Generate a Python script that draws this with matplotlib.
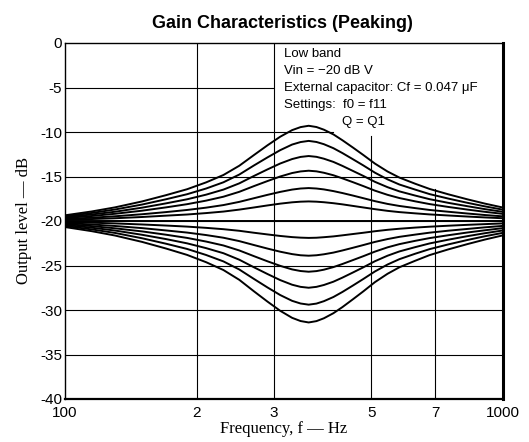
import matplotlib
matplotlib.use("Agg")
import matplotlib.pyplot as plt

# Frequencies (Hz) at which curve values were read
freq = [100, 115, 130, 150, 170, 190, 210, 230, 250, 270, 290, 310, 330, 345, 360,
        375, 390, 410, 430, 455, 480, 510, 545, 580, 630, 680, 750, 830, 910, 1000]

# Output level (dB) curves, largest boost to largest cut
c1 = [-19.36, -18.93, -18.47, -17.80, -17.10, -16.43, -15.66, -14.83, -13.79, -12.59, -11.49, -10.53, -9.79, -9.45, -9.30,
      -9.44, -9.74, -10.27, -10.93, -11.77, -12.59, -13.55, -14.44, -15.12, -15.81, -16.40, -17.00, -17.57, -18.05, -18.49]
c2 = [-19.46, -19.10, -18.71, -18.15, -17.56, -16.99, -16.35, -15.65, -14.78, -13.76, -12.85, -12.04, -11.41, -11.13, -11.00,
      -11.12, -11.37, -11.82, -12.37, -13.08, -13.76, -14.57, -15.32, -15.90, -16.47, -16.98, -17.48, -17.96, -18.36, -18.73]
c3 = [-19.56, -19.27, -18.96, -18.50, -18.02, -17.56, -17.04, -16.47, -15.77, -14.94, -14.20, -13.54, -13.04, -12.80, -12.70,
      -12.79, -13.00, -13.36, -13.81, -14.39, -14.94, -15.60, -16.20, -16.67, -17.14, -17.55, -17.96, -18.34, -18.67, -18.97]
c4 = [-19.66, -19.44, -19.19, -18.84, -18.47, -18.11, -17.71, -17.27, -16.72, -16.08, -15.51, -15.00, -14.61, -14.43, -14.35,
      -14.42, -14.58, -14.86, -15.21, -15.65, -16.08, -16.59, -17.06, -17.42, -17.79, -18.10, -18.42, -18.72, -18.97, -19.20]
c5 = [-19.78, -19.63, -19.47, -19.24, -19.00, -18.76, -18.50, -18.21, -17.85, -17.44, -17.06, -16.73, -16.47, -16.35, -16.30,
      -16.35, -16.45, -16.64, -16.86, -17.15, -17.44, -17.77, -18.08, -18.31, -18.55, -18.76, -18.96, -19.16, -19.33, -19.48]
c6 = [-19.87, -19.78, -19.69, -19.55, -19.40, -19.27, -19.11, -18.94, -18.72, -18.48, -18.25, -18.05, -17.90, -17.83, -17.80,
      -17.83, -17.89, -18.00, -18.13, -18.31, -18.48, -18.67, -18.86, -19.00, -19.14, -19.26, -19.38, -19.50, -19.60, -19.69]
c7 = [-20.0, -20.0, -20.0, -20.0, -20.0, -20.0, -20.0, -20.0, -20.0, -20.0, -20.0, -20.0, -20.0, -20.0, -20.0,
      -20.0, -20.0, -20.0, -20.0, -20.0, -20.0, -20.0, -20.0, -20.0, -20.0, -20.0, -20.0, -20.0, -20.0, -20.0]
c8 = [-20.11, -20.19, -20.27, -20.39, -20.51, -20.63, -20.77, -20.92, -21.10, -21.32, -21.51, -21.68, -21.81, -21.87, -21.90,
      -21.88, -21.82, -21.73, -21.61, -21.46, -21.32, -21.15, -20.99, -20.87, -20.74, -20.64, -20.53, -20.43, -20.35, -20.27]
c9 = [-20.23, -20.39, -20.56, -20.80, -21.06, -21.30, -21.58, -21.88, -22.26, -22.70, -23.10, -23.45, -23.72, -23.85, -23.90,
      -23.85, -23.74, -23.55, -23.31, -23.00, -22.70, -22.35, -22.03, -21.78, -21.53, -21.31, -21.09, -20.89, -20.71, -20.55]
c10 = [-20.34, -20.57, -20.82, -21.17, -21.54, -21.90, -22.31, -22.75, -23.31, -23.95, -24.53, -25.04, -25.44, -25.62, -25.70,
       -25.63, -25.47, -25.18, -24.83, -24.38, -23.95, -23.44, -22.96, -22.60, -22.23, -21.92, -21.60, -21.29, -21.04, -20.80]
c11 = [-20.45, -20.75, -21.07, -21.55, -22.03, -22.51, -23.05, -23.62, -24.35, -25.20, -25.96, -26.64, -27.16, -27.40, -27.50,
       -27.40, -27.19, -26.82, -26.36, -25.77, -25.20, -24.52, -23.90, -23.42, -22.94, -22.52, -22.10, -21.70, -21.37, -21.06]
c12 = [-20.56, -20.94, -21.34, -21.94, -22.55, -23.14, -23.82, -24.54, -25.45, -26.51, -27.47, -28.32, -28.97, -29.27, -29.40,
       -29.28, -29.01, -28.54, -27.97, -27.23, -26.51, -25.67, -24.89, -24.29, -23.68, -23.16, -22.63, -22.13, -21.71, -21.33]
c13 = [-20.68, -21.14, -21.63, -22.35, -23.09, -23.81, -24.63, -25.51, -26.61, -27.90, -29.06, -30.09, -30.88, -31.24, -31.40,
       -31.25, -30.93, -30.36, -29.67, -28.77, -27.90, -26.87, -25.93, -25.20, -24.47, -23.83, -23.19, -22.59, -22.08, -21.61]
curves = [c1, c2, c3, c4, c5, c6, c7, c8, c9, c10, c11, c12, c13]

xticks = [100, 200, 300, 500, 700, 1000]
xticklabels = ["100", "2", "3", "5", "7", "1000"]
yticks = [0, -5, -10, -15, -20, -25, -30, -35, -40]
yticklabels = ["0", "-5", "-10", "-15", "-20", "-25", "-30", "-35", "-40"]

title = "Gain Characteristics (Peaking)"
notes = ["Low band", "Vin = \u221220 dB V", "External capacitor: Cf = 0.047 \u03bcF",
         "Settings:  f0 = f11", "                Q = Q1"]

W, H = 529, 442
fig = plt.figure(figsize=(W / 100, H / 100), dpi=100)
ax = fig.add_axes([65 / W, 1 - 399 / H, (503 - 65) / W, (399 - 43) / H])
ax.set_xscale("log")
ax.set_xlim(100, 1000)
ax.set_ylim(-40, 0)

# grid (partial, as in the original)
gkw = dict(color="black", lw=0.8, zorder=1)
ax.axvline(200, **gkw)
ax.axvline(300, **gkw)
ax.axvline(500, ymin=0, ymax=0.74, **gkw)
ax.axvline(700, ymin=0, ymax=0.59, **gkw)
for yv in [-15, -20, -25, -30, -35]:
    ax.axhline(yv, **gkw)
ax.axhline(-5, xmin=0, xmax=(273 - 65) / 438, **gkw)
ax.axhline(-10, xmin=0, xmax=(333 - 65) / 438, **gkw)

for c in curves:
    ax.plot(freq, c, color="black", lw=1.4, zorder=3, solid_joinstyle="round")

ax.xaxis.set_minor_locator(matplotlib.ticker.NullLocator())
ax.set_xticks(xticks)
ax.set_xticklabels(xticklabels)
ax.set_yticks(yticks)
ax.set_yticklabels(yticklabels)
ax.tick_params(length=0, labelsize=11)
ax.tick_params(axis="x", pad=5)
ax.tick_params(axis="y", pad=2)
for lab in ax.get_xticklabels() + ax.get_yticklabels():
    lab.set_family("Liberation Sans")

for s in ["left", "top"]:
    ax.spines[s].set_linewidth(1.0)
ax.spines["bottom"].set_linewidth(1.6)
ax.spines["right"].set_linewidth(2.2)

ax.set_xlabel("Frequency, f \u2014 Hz", family="Liberation Serif", fontsize=12, labelpad=1)
ax.set_ylabel("Output level \u2014 dB", family="Liberation Serif", fontsize=12, labelpad=6)

fig.text(0.5 * (122 + 443) / W, 1 - 24 / H, title, ha="center", va="center",
         family="Liberation Sans", fontweight="bold", fontsize=13)

for i, t in enumerate(notes):
    fig.text(284 / W, 1 - (54 + 17 * i) / H, t, ha="left", va="center",
             family="Liberation Sans", fontsize=9.5)

fig.savefig("out.png", dpi=100)
